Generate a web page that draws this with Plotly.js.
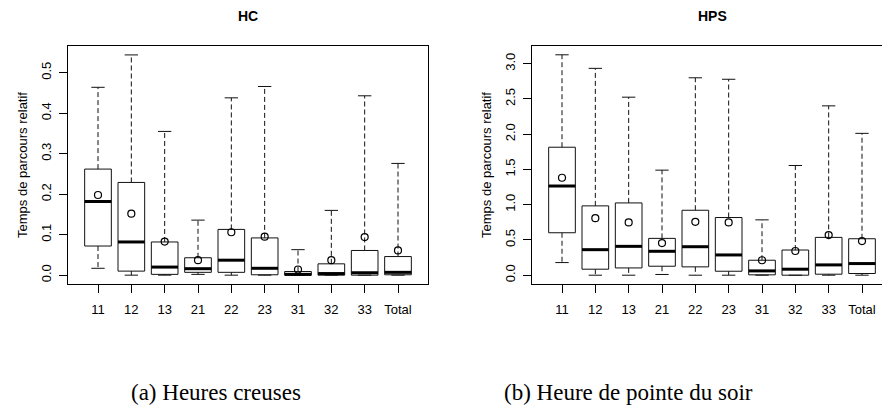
<!DOCTYPE html>
<html>
<head>
<meta charset="utf-8">
<script src="https://cdn.plot.ly/plotly-3.0.1.min.js"></script>
<style>html,body{margin:0;padding:0;background:#fff;}#chart{width:882px;height:409px;}</style>
</head>
<body>
<div id="chart"></div>
<script>
// ---- data ----
const categories = ['11','12','13','21','22','23','31','32','33','Total'];

// HC (heures creuses)
const hcLower  = [0.017, 0.000, 0.000, 0.002, 0.000, 0.000, 0.000, 0.000, 0.000, 0.000];
const hcQ1     = [0.072, 0.010, 0.002, 0.007, 0.007, 0.001, 0.000, 0.000, 0.000, 0.001];
const hcMedian = [0.182, 0.082, 0.020, 0.016, 0.037, 0.017, 0.002, 0.004, 0.006, 0.007];
const hcQ3     = [0.262, 0.229, 0.082, 0.043, 0.113, 0.092, 0.009, 0.028, 0.061, 0.046];
const hcUpper  = [0.464, 0.544, 0.355, 0.136, 0.438, 0.466, 0.063, 0.160, 0.443, 0.276];
const hcMean   = [0.198, 0.152, 0.083, 0.037, 0.106, 0.095, 0.014, 0.037, 0.094, 0.061];

// HPS (heure de pointe du soir)
const hpsLower  = [0.179, 0.000, 0.000, 0.010, 0.000, 0.000, 0.000, 0.000, 0.000, 0.000];
const hpsQ1     = [0.602, 0.085, 0.103, 0.127, 0.118, 0.056, 0.005, 0.000, 0.014, 0.024];
const hpsMedian = [1.265, 0.362, 0.409, 0.339, 0.404, 0.287, 0.061, 0.085, 0.146, 0.165];
const hpsQ3     = [1.815, 0.983, 1.025, 0.522, 0.921, 0.818, 0.212, 0.357, 0.536, 0.517];
const hpsUpper  = [3.126, 2.934, 2.525, 1.490, 2.800, 2.779, 0.785, 1.556, 2.402, 2.012];
const hpsMean   = [1.382, 0.809, 0.748, 0.456, 0.757, 0.748, 0.212, 0.343, 0.569, 0.484];

const hcTicks  = [0, 0.1, 0.2, 0.3, 0.4, 0.5];
const hcTickText  = ['0.0','0.1','0.2','0.3','0.4','0.5'];
const hpsTicks = [0, 0.5, 1.0, 1.5, 2.0, 2.5, 3.0];
const hpsTickText = ['0.0','0.5','1.0','1.5','2.0','2.5','3.0'];

// ---- builders ----
const HALF = 0.4, CAP = 0.2;
const pos = categories.map((c, i) => i + 1);

function segs(fn) {
  const x = [], y = [];
  pos.forEach((p, i) => { const s = fn(p, i); s.forEach(pt => { x.push(pt[0]); y.push(pt[1]); }); x.push(null); y.push(null); });
  return {x, y};
}

function boxTraces(lo, q1, med, q3, up, mean, xa, ya) {
  const t = [];
  const common = {type:'scatter', mode:'lines', xaxis:xa, yaxis:ya, hoverinfo:'skip', showlegend:false};
  const wh = segs((p,i) => [[p,q3[i]],[p,up[i]],[null,null],[p,q1[i]],[p,lo[i]]]);
  t.push(Object.assign({}, common, wh, {line:{color:'#111', width:1, dash:'5px,3px'}}));
  const caps = segs((p,i) => [[p-CAP,up[i]],[p+CAP,up[i]],[null,null],[p-CAP,lo[i]],[p+CAP,lo[i]]]);
  t.push(Object.assign({}, common, caps, {line:{color:'#111', width:1}}));
  const bx = segs((p,i) => [[p-HALF,q1[i]],[p+HALF,q1[i]],[p+HALF,q3[i]],[p-HALF,q3[i]],[p-HALF,q1[i]]]);
  t.push(Object.assign({}, common, bx, {line:{color:'#111', width:1}}));
  const md = segs((p,i) => [[p-HALF,med[i]],[p+HALF,med[i]]]);
  t.push(Object.assign({}, common, md, {line:{color:'#000', width:3}}));
  t.push({type:'scatter', mode:'markers', x:pos, y:mean, xaxis:xa, yaxis:ya, hoverinfo:'skip', showlegend:false,
          marker:{symbol:'circle-open', size:7, color:'#000', line:{width:1.2, color:'#000'}}});
  return t;
}

const data = [].concat(
  boxTraces(hcLower, hcQ1, hcMedian, hcQ3, hcUpper, hcMean, 'x', 'y'),
  boxTraces(hpsLower, hpsQ1, hpsMedian, hpsQ3, hpsUpper, hpsMean, 'x2', 'y2')
);

const W = 882, H = 409;
const FONT = 'Liberation Sans, Arial, sans-serif';
const tickFont = {family: FONT, size: 13, color: '#000'};

function xAxis(domain, range, anchor) {
  return {domain, range, anchor, tickvals: pos, ticktext: categories, ticks:'outside', ticklen:8, tickcolor:'#000',
          showline:true, mirror:true, linecolor:'#000', linewidth:1, showgrid:false, zeroline:false,
          tickfont: tickFont, ticklabelstandoff: 5, fixedrange:true};
}
function yAxis(range, tv, tt, anchor, mirror) {
  return {domain:[125/H, 363/H], range, anchor, tickvals: tv, ticktext: tt, tickangle: -90, ticks:'outside', ticklen:8,
          tickcolor:'#000', showline:true, mirror, linecolor:'#000', linewidth:1, showgrid:false, zeroline:false,
          tickfont: tickFont, ticklabelstandoff: 3, automargin:false,
          title:{text:'Temps de parcours relatif', font:{family: FONT, size:13, color:'#000'}, standoff: 8}};
}

const layout = {
  width: W, height: H,
  margin: {l:0, r:0, t:0, b:0},
  paper_bgcolor:'#fff', plot_bgcolor:'#fff',
  showlegend:false,
  xaxis: xAxis([68/W, 428/W], [0.1, 10.9], 'y'),
  yaxis: yAxis([-0.0218, 0.566], hcTicks, hcTickText, 'x', true),
  xaxis2: xAxis([532/W, 1], [0.1, 10.6], 'y2'),
  yaxis2: yAxis([-0.125, 3.251], hpsTicks, hpsTickText, 'x2', false),
  annotations: [
    {text:'<b>HC</b>', x:248/W, y:(H-15.5)/H, xref:'paper', yref:'paper', showarrow:false, xanchor:'center', yanchor:'middle',
     font:{family:FONT, size:14, color:'#000'}},
    {text:'<b>HPS</b>', x:712/W, y:(H-15.5)/H, xref:'paper', yref:'paper', showarrow:false, xanchor:'center', yanchor:'middle',
     font:{family:FONT, size:14, color:'#000'}},
    {text:'(a) Heures creuses', x:216/W, y:(H-392)/H, xref:'paper', yref:'paper', showarrow:false, xanchor:'center', yanchor:'middle',
     font:{family:'Liberation Serif, Times New Roman, serif', size:23, color:'#000'}},
    {text:'(b) Heure de pointe du soir', x:628.5/W, y:(H-392)/H, xref:'paper', yref:'paper', showarrow:false, xanchor:'center', yanchor:'middle',
     font:{family:'Liberation Serif, Times New Roman, serif', size:23, color:'#000'}}
  ]
};

Plotly.newPlot('chart', data, layout, {staticPlot:true, displayModeBar:false});
</script>
</body>
</html>
